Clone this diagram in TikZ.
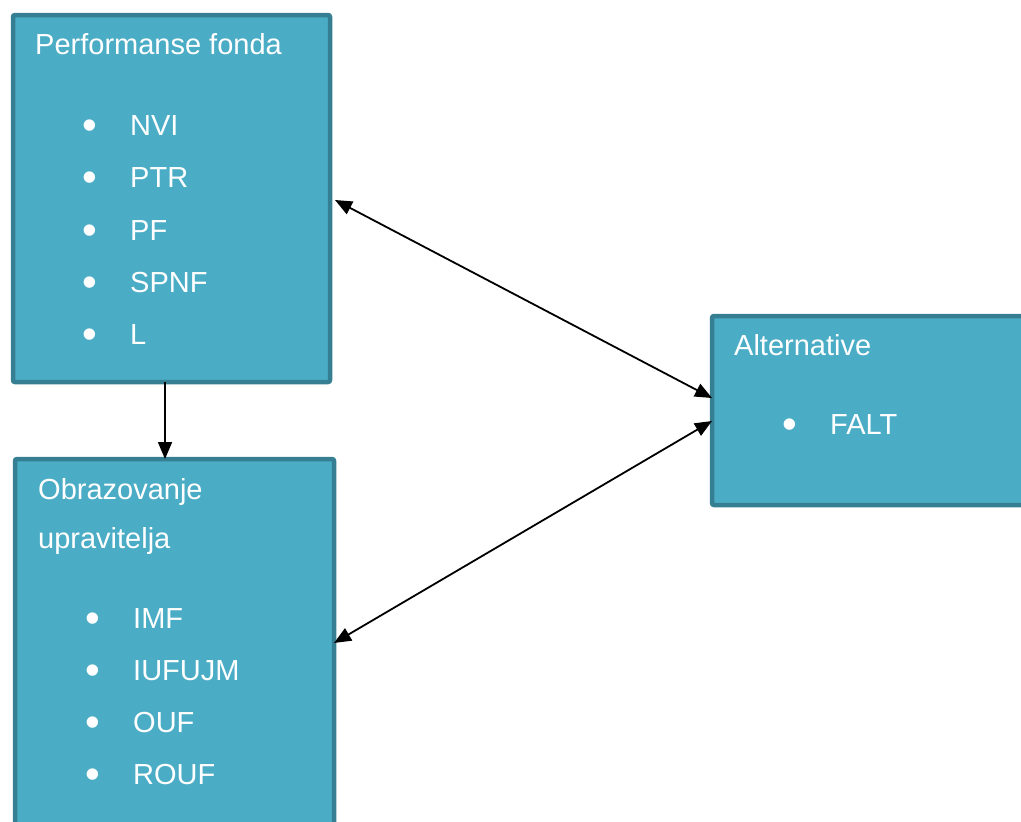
\documentclass[tikz,border=0pt]{standalone}
\usepackage{fontspec}
\setmainfont{Liberation Sans}
\usetikzlibrary{arrows.meta,calc}
\definecolor{boxfill}{HTML}{4BACC6}
\definecolor{boxline}{HTML}{367F92}
\tikzset{
  box/.style={draw=boxline, fill=boxfill, line width=4.5pt, rounded corners=2pt,
    anchor=north west, inner sep=0pt, outer sep=0pt},
  lbl/.style={anchor=base west, inner sep=0pt, text=white, font=\fontsize{29}{34}\selectfont},
  item/.style={lbl},
  conn/.style={line width=1.8pt, draw=black}
}
\newcommand{\bul}{\llap{\makebox[48pt][l]{\raisebox{-4.5pt}{\scalebox{1.45}{\textbullet}}}}}
\begin{document}
\begin{tikzpicture}[x=1pt,y=-1pt]
\useasboundingbox (0,0) rectangle (1021,822);
\begin{scope}
\clip (0,0) rectangle (1021,822);
\node[box, minimum width=317pt, minimum height=367pt] (b1) at (13,15) {};
\node[box, minimum width=319pt, minimum height=371pt] (b2) at (15,459) {};
\node[box, minimum width=318pt, minimum height=189pt] (b3) at (712,316) {};
\end{scope}
% box 1
\node[lbl] (t1) at (35,54) {Performanse fonda};
\node[item] (i11) at (130,135) {\bul NVI};
\node[item] (i12) at (130,187) {\bul PTR};
\node[item] (i13) at (130,240) {\bul PF};
\node[item] (i14) at (130,292) {\bul SPNF};
\node[item] (i15) at (130,344) {\bul L};
% box 2
\node[lbl] (t2a) at (38,499) {Obrazovanje};
\node[lbl] (t2b) at (38,548) {upravitelja};
\node[item] (i21) at (133,628) {\bul IMF};
\node[item] (i22) at (133,680) {\bul IUFUJM};
\node[item] (i23) at (133,732) {\bul OUF};
\node[item] (i24) at (133,784) {\bul ROUF};
% box 3
\node[lbl] (t3) at (734,355) {Alternative};
\node[item] (i31) at (830,434) {\bul FALT};
% connectors
\coordinate (a1) at ($(b1.north east)+(5,185)$);
\coordinate (a2) at ($(b3.north west)+(0,82)$);
\coordinate (a3) at ($(b3.north west)+(0,105)$);
\coordinate (a4) at ($(b2.north east)+(0,184)$);
\coordinate (d1) at ($(b1.south west)+(152,0)$);
\coordinate (d2) at ($(b2.north west)+(150,0)$);
\draw[conn, -{Triangle[length=17pt,width=14pt]}] (d1) -- (d2);
\draw[conn, {Triangle[length=17pt,width=14pt]}-{Triangle[length=17pt,width=14pt]}] (a1) -- (a2);
\draw[conn, {Triangle[length=17pt,width=14pt]}-{Triangle[length=17pt,width=14pt]}] (a4) -- (a3);
\end{tikzpicture}
\end{document}
